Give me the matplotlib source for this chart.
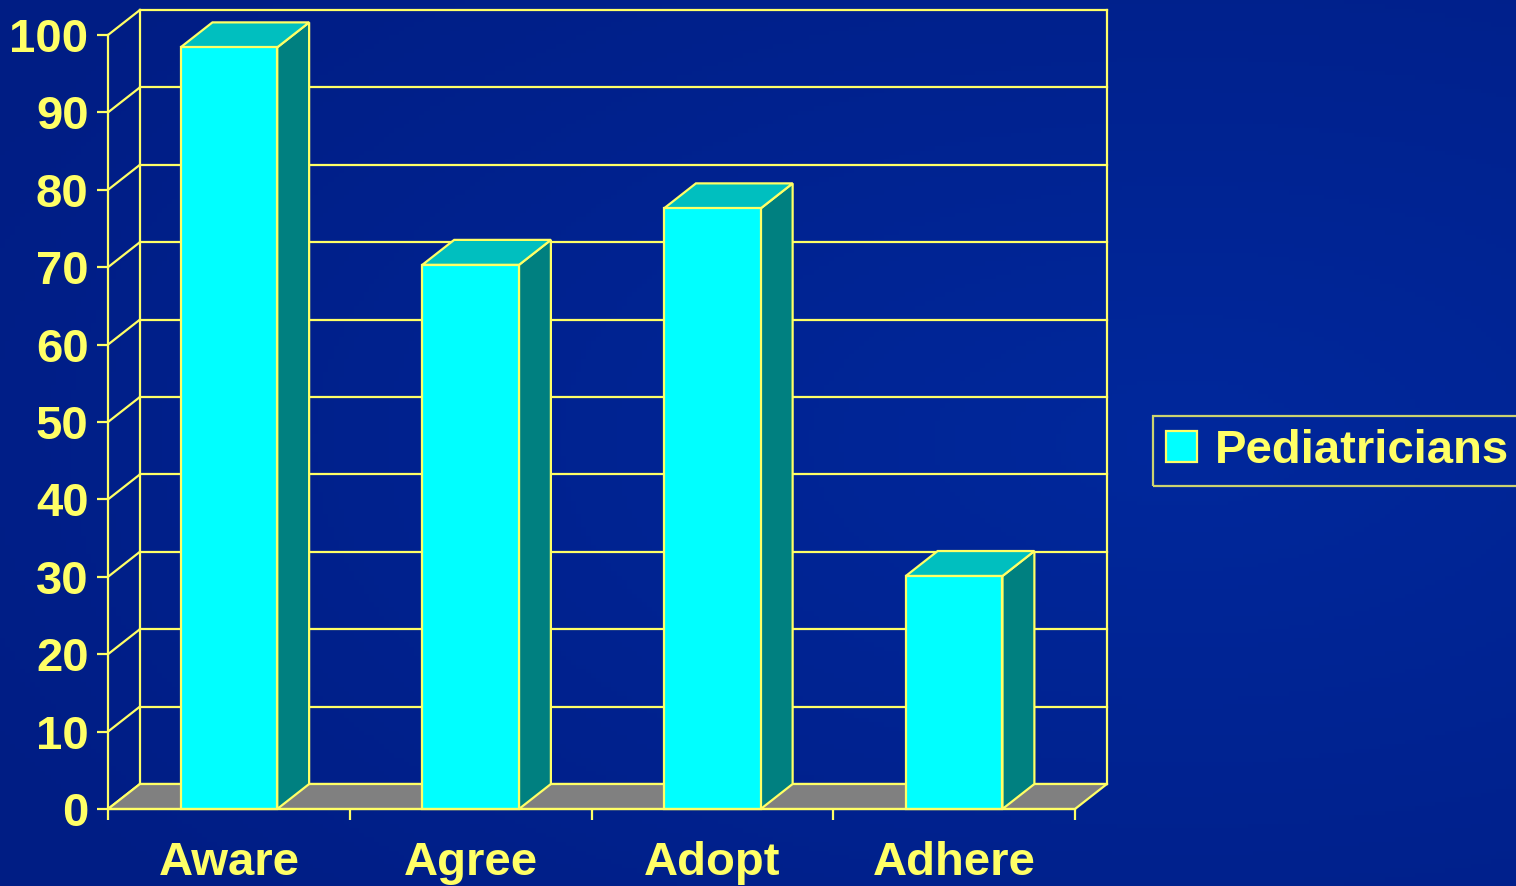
import numpy as np
import matplotlib
matplotlib.use("Agg")
import matplotlib.pyplot as plt
from matplotlib.patches import Polygon, Patch

categories = ["Aware", "Agree", "Adopt", "Adhere"]
values = [98.4, 70.3, 77.6, 30.1]
series_name = "Pediatricians"
yticks = list(range(0, 101, 10))

yellow = "#FFFF66"
front_col = "#00FFFF"
top_col = "#00BFBF"
side_col = "#008080"
floor_col = "#808080"

plt.rcParams["font.family"] = ["Liberation Sans", "DejaVu Sans"]
plt.rcParams["font.weight"] = "bold"

fig = plt.figure(figsize=(15.16, 8.86), dpi=100)

# gradient background
ax_bg = fig.add_axes([0, 0, 1, 1], zorder=-10)
xx, yy = np.meshgrid(np.linspace(0, 1, 300), np.linspace(0, 1, 200))
r = np.sqrt(((xx - 0.78) / 0.9) ** 2 + ((yy - 0.5) / 0.8) ** 2)
t = np.clip(1 - r, 0, 1)
dark = np.array([0, 29, 132]) / 255
light = np.array([0, 40, 156]) / 255
img = dark + (light - dark) * t[..., None]
ax_bg.imshow(img, aspect="auto", extent=[0, 1, 0, 1], origin="lower")
ax_bg.axis("off")

ax = fig.add_axes([108 / 1516, 77 / 886, 967 / 1516, 774 / 886])
ax.set_facecolor("none")
ax.set_xlim(-0.5, len(categories) - 0.5)
ax.set_ylim(0, 100)

# depth of the 3d box in data units
DX = 0.132
DY = 3.23
W = 0.4
lw = 1.6
x_lo, x_hi = -0.5, len(categories) - 0.5

# back wall grid + left diagonals
for v in yticks:
    ax.plot([x_lo + DX, x_hi + DX], [v + DY, v + DY], color=yellow, lw=lw, zorder=1, clip_on=False)
    ax.plot([x_lo, x_lo + DX], [v, v + DY], color=yellow, lw=lw, zorder=1, clip_on=False)
for xe in (x_lo + DX, x_hi + DX):
    ax.plot([xe, xe], [DY, 100 + DY], color=yellow, lw=lw, zorder=1, clip_on=False)

# floor
ax.add_patch(Polygon([(x_lo, 0), (x_hi, 0), (x_hi + DX, DY), (x_lo + DX, DY)],
                     closed=True, facecolor=floor_col, edgecolor=yellow, lw=lw,
                     zorder=2, clip_on=False))

# bars
for i, v in enumerate(values):
    x0, x1 = i - W / 2, i + W / 2
    ax.add_patch(Polygon([(x1, 0), (x1 + DX, DY), (x1 + DX, v + DY), (x1, v)],
                         closed=True, facecolor=side_col, edgecolor=yellow, lw=lw,
                         zorder=4, clip_on=False))
    ax.add_patch(Polygon([(x0, v), (x1, v), (x1 + DX, v + DY), (x0 + DX, v + DY)],
                         closed=True, facecolor=top_col, edgecolor=yellow, lw=lw,
                         zorder=4, clip_on=False))
ax.bar(range(len(categories)), values, W, color=front_col, edgecolor=yellow,
       lw=lw, zorder=5, clip_on=False)

for s in ("top", "right"):
    ax.spines[s].set_visible(False)
for s in ("left", "bottom"):
    ax.spines[s].set_color(yellow)
    ax.spines[s].set_linewidth(lw)
    ax.spines[s].set_zorder(6)

ax.set_yticks(yticks)
ax.tick_params(axis="y", colors=yellow, length=8, width=lw, pad=6, labelsize=34)
ax.set_xticks(range(len(categories)))
ax.set_xticklabels(categories)
ax.set_xticks(np.arange(x_lo, x_hi + 0.01, 1), minor=True)
ax.tick_params(axis="x", which="major", colors=yellow, length=0, pad=23, labelsize=34)
ax.tick_params(axis="x", which="minor", colors=yellow, length=8, width=lw)

leg = fig.legend(handles=[Patch(facecolor=front_col, edgecolor=yellow, lw=lw)],
                 labels=[series_name], loc="center left",
                 bbox_to_anchor=(1153 / 1516, 1 - 451 / 886), fontsize=34,
                 frameon=True, fancybox=False, handlelength=0.65, handleheight=0.65,
                 handletextpad=0.38, borderpad=0.28, borderaxespad=0)
leg.get_frame().set_edgecolor(yellow)
leg.get_frame().set_facecolor("none")
leg.get_frame().set_linewidth(lw)
for txt in leg.get_texts():
    txt.set_color(yellow)

fig.savefig("out.png", dpi=100)
